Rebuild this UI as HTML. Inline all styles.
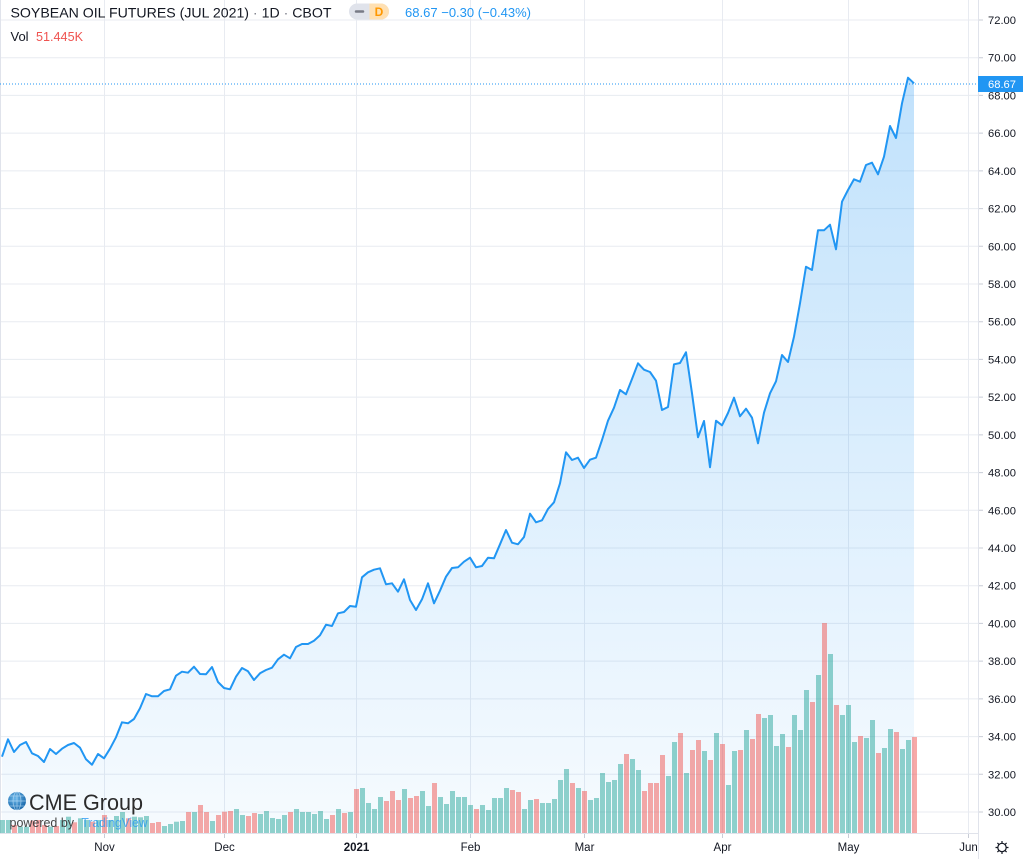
<!DOCTYPE html>
<html><head><meta charset="utf-8"><style>
html,body{margin:0;padding:0;background:#fff;}
svg{display:block;font-family:"Liberation Sans",Arial,sans-serif;}
</style></head><body>
<svg width="1025" height="859" viewBox="0 0 1025 859" xmlns="http://www.w3.org/2000/svg">
<defs>
<linearGradient id="ag" gradientUnits="userSpaceOnUse" x1="0" y1="78" x2="0" y2="833">
<stop offset="0" stop-color="#2196f3" stop-opacity="0.28"/>
<stop offset="1" stop-color="#2196f3" stop-opacity="0.04"/>
</linearGradient>
<radialGradient id="gl" cx="0.4" cy="0.35" r="0.7">
<stop offset="0" stop-color="#6bb7ea"/><stop offset="1" stop-color="#1565a8"/>
</radialGradient>
</defs>
<rect width="1025" height="859" fill="#fff"/>
<!-- grid -->
<g stroke="#e8ebf1" stroke-width="1">
<path d="M0 20H978M0 57.7H978M0 95.4H978M0 133.1H978M0 170.9H978M0 208.6H978M0 246.3H978M0 284H978M0 321.7H978M0 359.4H978M0 397.1H978M0 434.9H978M0 472.6H978M0 510.3H978M0 548H978M0 585.7H978M0 623.4H978M0 661.1H978M0 698.9H978M0 736.6H978M0 774.3H978M0 812H978"/>
<path d="M104.5 0V833M224.5 0V833M356.5 0V833M470.5 0V833M584.5 0V833M722.5 0V833M848.5 0V833M968.5 0V833"/>
</g>
<line x1="0.5" y1="0" x2="0.5" y2="833" stroke="#e0e3eb"/>
<!-- area -->
<path fill="url(#ag)" d="M2 833 L2 756.7 L8 739.3 L14 752 L20 745 L26 742 L32 753.3 L38 756 L44 762 L50 749 L56 754 L62 748.7 L68 745 L74 743 L80 747.7 L86 759.3 L92 764.7 L98 754 L104 758.3 L110 748.7 L116 737.3 L122 722.3 L128 723.3 L134 719 L140 708.3 L146 694 L152 696.3 L158 696.3 L164 691 L170 689.3 L176 675.7 L182 671.7 L188 672.7 L194 666.7 L200 674 L206 674.3 L212 667 L218 682 L224 688 L230 689.3 L236 676.7 L242 668 L248 671.3 L254 680 L260 673.3 L266 670 L272 667.7 L278 659.3 L284 654.7 L290 658.3 L296 647 L302 644 L308 644 L314 640.7 L320 635.3 L326 624.7 L332 626 L338 613.3 L344 612 L350 606 L356 606.7 L362 577.3 L368 572.3 L374 569.7 L380 568.3 L386 584.3 L392 583.3 L398 591.7 L404 579.3 L410 600 L416 610 L422 599.3 L428 583.3 L434 603.3 L440 590.7 L446 576.7 L452 568 L458 567.3 L464 561.7 L470 557.7 L476 567.3 L482 566 L488 557.7 L494 558.3 L500 544.3 L506 530 L512 542.7 L518 544.3 L524 537 L530 513.7 L536 522.3 L542 520.3 L548 509 L554 502.3 L560 483.3 L566 452.3 L572 460 L578 457.7 L584 468 L590 459.7 L596 457.7 L602 440 L608 420.7 L614 407.7 L620 390 L626 394.3 L632 379 L638 363.3 L644 369.7 L650 372 L656 380.7 L662 410 L668 407 L674 364.3 L680 363 L686 352.3 L692 393.3 L698 437.3 L704 421 L710 467.3 L716 420.7 L722 425.3 L728 413 L734 397.7 L740 416.3 L746 408.7 L752 417.7 L758 443.3 L764 412.7 L770 393.3 L776 381.3 L782 355 L788 362 L794 336.7 L800 303.3 L806 266.7 L812 270 L818 230.3 L824 230.3 L830 224.7 L836 249.3 L842 201.7 L848 190 L854 179.3 L860 181.7 L866 165 L872 162.7 L878 174.3 L884 156.7 L890 126 L896 138 L902 103.3 L908 77.7 L914 83.3 L914 833 Z"/>
<!-- volume teal -->
<g fill="#26a69a" fill-opacity="0.5">
<rect x="0" y="820" width="5" height="13"/><rect x="6" y="820" width="5" height="13"/><rect x="18" y="826.7" width="5" height="6.3"/><rect x="24" y="826.7" width="5" height="6.3"/><rect x="48" y="826.7" width="5" height="6.3"/><rect x="60" y="820" width="5" height="13"/><rect x="66" y="816.7" width="5" height="16.3"/><rect x="78" y="818.3" width="5" height="14.7"/><rect x="84" y="820" width="5" height="13"/><rect x="96" y="820" width="5" height="13"/><rect x="108" y="820" width="5" height="13"/><rect x="114" y="816" width="5" height="17"/><rect x="120" y="812" width="5" height="21"/><rect x="132" y="816.7" width="5" height="16.3"/><rect x="138" y="817.3" width="5" height="15.7"/><rect x="144" y="816" width="5" height="17"/><rect x="162" y="826" width="5" height="7"/><rect x="168" y="824" width="5" height="9"/><rect x="174" y="821.7" width="5" height="11.3"/><rect x="180" y="821" width="5" height="12"/><rect x="192" y="812" width="5" height="21"/><rect x="210" y="821" width="5" height="12"/><rect x="234" y="809" width="5" height="24"/><rect x="240" y="815" width="5" height="18"/><rect x="258" y="814" width="5" height="19"/><rect x="264" y="811" width="5" height="22"/><rect x="270" y="818" width="5" height="15"/><rect x="276" y="819" width="5" height="14"/><rect x="282" y="815" width="5" height="18"/><rect x="294" y="809" width="5" height="24"/><rect x="300" y="812" width="5" height="21"/><rect x="306" y="812" width="5" height="21"/><rect x="312" y="814" width="5" height="19"/><rect x="318" y="811" width="5" height="22"/><rect x="324" y="819" width="5" height="14"/><rect x="336" y="809" width="5" height="24"/><rect x="348" y="812" width="5" height="21"/><rect x="360" y="788" width="5" height="45"/><rect x="366" y="803" width="5" height="30"/><rect x="372" y="809" width="5" height="24"/><rect x="378" y="797" width="5" height="36"/><rect x="402" y="789" width="5" height="44"/><rect x="420" y="791" width="5" height="42"/><rect x="426" y="806" width="5" height="27"/><rect x="438" y="797" width="5" height="36"/><rect x="444" y="804" width="5" height="29"/><rect x="450" y="791" width="5" height="42"/><rect x="456" y="797" width="5" height="36"/><rect x="462" y="797" width="5" height="36"/><rect x="468" y="805" width="5" height="28"/><rect x="480" y="805" width="5" height="28"/><rect x="486" y="810" width="5" height="23"/><rect x="492" y="798" width="5" height="35"/><rect x="498" y="798" width="5" height="35"/><rect x="504" y="788" width="5" height="45"/><rect x="522" y="809" width="5" height="24"/><rect x="528" y="800" width="5" height="33"/><rect x="540" y="803" width="5" height="30"/><rect x="546" y="803" width="5" height="30"/><rect x="552" y="799" width="5" height="34"/><rect x="558" y="780" width="5" height="53"/><rect x="564" y="769" width="5" height="64"/><rect x="576" y="788" width="5" height="45"/><rect x="588" y="800" width="5" height="33"/><rect x="594" y="798" width="5" height="35"/><rect x="600" y="773" width="5" height="60"/><rect x="606" y="782" width="5" height="51"/><rect x="612" y="780" width="5" height="53"/><rect x="618" y="764" width="5" height="69"/><rect x="630" y="759" width="5" height="74"/><rect x="636" y="770" width="5" height="63"/><rect x="666" y="776" width="5" height="57"/><rect x="672" y="742" width="5" height="91"/><rect x="684" y="773" width="5" height="60"/><rect x="702" y="751" width="5" height="82"/><rect x="714" y="733" width="5" height="100"/><rect x="726" y="785" width="5" height="48"/><rect x="732" y="751" width="5" height="82"/><rect x="744" y="730" width="5" height="103"/><rect x="762" y="718" width="5" height="115"/><rect x="768" y="715" width="5" height="118"/><rect x="774" y="746" width="5" height="87"/><rect x="780" y="734" width="5" height="99"/><rect x="792" y="715" width="5" height="118"/><rect x="798" y="730" width="5" height="103"/><rect x="804" y="690" width="5" height="143"/><rect x="816" y="675" width="5" height="158"/><rect x="828" y="654" width="5" height="179"/><rect x="840" y="715" width="5" height="118"/><rect x="846" y="705" width="5" height="128"/><rect x="852" y="742" width="5" height="91"/><rect x="864" y="738" width="5" height="95"/><rect x="870" y="720" width="5" height="113"/><rect x="882" y="748" width="5" height="85"/><rect x="888" y="729" width="5" height="104"/><rect x="900" y="749" width="5" height="84"/><rect x="906" y="740" width="5" height="93"/>
</g>
<!-- volume red -->
<g fill="#ef5350" fill-opacity="0.5">
<rect x="12" y="825" width="5" height="8"/><rect x="30" y="820.7" width="5" height="12.3"/><rect x="36" y="820" width="5" height="13"/><rect x="42" y="825" width="5" height="8"/><rect x="54" y="826" width="5" height="7"/><rect x="72" y="822.3" width="5" height="10.7"/><rect x="90" y="821.7" width="5" height="11.3"/><rect x="102" y="815" width="5" height="18"/><rect x="126" y="818.3" width="5" height="14.7"/><rect x="150" y="823" width="5" height="10"/><rect x="156" y="822" width="5" height="11"/><rect x="186" y="812" width="5" height="21"/><rect x="198" y="805" width="5" height="28"/><rect x="204" y="812" width="5" height="21"/><rect x="216" y="815" width="5" height="18"/><rect x="222" y="811.7" width="5" height="21.3"/><rect x="228" y="811" width="5" height="22"/><rect x="246" y="816" width="5" height="17"/><rect x="252" y="813" width="5" height="20"/><rect x="288" y="812" width="5" height="21"/><rect x="330" y="815" width="5" height="18"/><rect x="342" y="813" width="5" height="20"/><rect x="354" y="789" width="5" height="44"/><rect x="384" y="801" width="5" height="32"/><rect x="390" y="791" width="5" height="42"/><rect x="396" y="800" width="5" height="33"/><rect x="408" y="798" width="5" height="35"/><rect x="414" y="796" width="5" height="37"/><rect x="432" y="783" width="5" height="50"/><rect x="474" y="809" width="5" height="24"/><rect x="510" y="790" width="5" height="43"/><rect x="516" y="792" width="5" height="41"/><rect x="534" y="799" width="5" height="34"/><rect x="570" y="783" width="5" height="50"/><rect x="582" y="791" width="5" height="42"/><rect x="624" y="754" width="5" height="79"/><rect x="642" y="791" width="5" height="42"/><rect x="648" y="783" width="5" height="50"/><rect x="654" y="783" width="5" height="50"/><rect x="660" y="755" width="5" height="78"/><rect x="678" y="733" width="5" height="100"/><rect x="690" y="750" width="5" height="83"/><rect x="696" y="740" width="5" height="93"/><rect x="708" y="760" width="5" height="73"/><rect x="720" y="744" width="5" height="89"/><rect x="738" y="750" width="5" height="83"/><rect x="750" y="739" width="5" height="94"/><rect x="756" y="714" width="5" height="119"/><rect x="786" y="747" width="5" height="86"/><rect x="810" y="702" width="5" height="131"/><rect x="822" y="623" width="5" height="210"/><rect x="834" y="705" width="5" height="128"/><rect x="858" y="736" width="5" height="97"/><rect x="876" y="753" width="5" height="80"/><rect x="894" y="732" width="5" height="101"/><rect x="912" y="737" width="5" height="96"/>
</g>
<!-- line -->
<path fill="none" stroke="#2196f3" stroke-width="2" stroke-linejoin="round" d="M2 756.7 L8 739.3 L14 752 L20 745 L26 742 L32 753.3 L38 756 L44 762 L50 749 L56 754 L62 748.7 L68 745 L74 743 L80 747.7 L86 759.3 L92 764.7 L98 754 L104 758.3 L110 748.7 L116 737.3 L122 722.3 L128 723.3 L134 719 L140 708.3 L146 694 L152 696.3 L158 696.3 L164 691 L170 689.3 L176 675.7 L182 671.7 L188 672.7 L194 666.7 L200 674 L206 674.3 L212 667 L218 682 L224 688 L230 689.3 L236 676.7 L242 668 L248 671.3 L254 680 L260 673.3 L266 670 L272 667.7 L278 659.3 L284 654.7 L290 658.3 L296 647 L302 644 L308 644 L314 640.7 L320 635.3 L326 624.7 L332 626 L338 613.3 L344 612 L350 606 L356 606.7 L362 577.3 L368 572.3 L374 569.7 L380 568.3 L386 584.3 L392 583.3 L398 591.7 L404 579.3 L410 600 L416 610 L422 599.3 L428 583.3 L434 603.3 L440 590.7 L446 576.7 L452 568 L458 567.3 L464 561.7 L470 557.7 L476 567.3 L482 566 L488 557.7 L494 558.3 L500 544.3 L506 530 L512 542.7 L518 544.3 L524 537 L530 513.7 L536 522.3 L542 520.3 L548 509 L554 502.3 L560 483.3 L566 452.3 L572 460 L578 457.7 L584 468 L590 459.7 L596 457.7 L602 440 L608 420.7 L614 407.7 L620 390 L626 394.3 L632 379 L638 363.3 L644 369.7 L650 372 L656 380.7 L662 410 L668 407 L674 364.3 L680 363 L686 352.3 L692 393.3 L698 437.3 L704 421 L710 467.3 L716 420.7 L722 425.3 L728 413 L734 397.7 L740 416.3 L746 408.7 L752 417.7 L758 443.3 L764 412.7 L770 393.3 L776 381.3 L782 355 L788 362 L794 336.7 L800 303.3 L806 266.7 L812 270 L818 230.3 L824 230.3 L830 224.7 L836 249.3 L842 201.7 L848 190 L854 179.3 L860 181.7 L866 165 L872 162.7 L878 174.3 L884 156.7 L890 126 L896 138 L902 103.3 L908 77.7 L914 83.3"/>
<!-- last price dotted -->
<line x1="0" y1="84" x2="978" y2="84" stroke="#2196f3" stroke-width="1" stroke-dasharray="1 2"/>
<!-- axes borders -->
<line x1="0" y1="833.5" x2="978" y2="833.5" stroke="#e0e3eb"/>
<line x1="978.5" y1="0" x2="978.5" y2="859" stroke="#e0e3eb"/>
<!-- price ticks -->
<g stroke="#c8ccd6"><path d="M979 20H983M979 57.7H983M979 95.4H983M979 133.1H983M979 170.9H983M979 208.6H983M979 246.3H983M979 284H983M979 321.7H983M979 359.4H983M979 397.1H983M979 434.9H983M979 472.6H983M979 510.3H983M979 548H983M979 585.7H983M979 623.4H983M979 661.1H983M979 698.9H983M979 736.6H983M979 774.3H983M979 812H983"/></g>
<g fill="#131722" font-size="11.2">
<text x="988" y="24">72.00</text><text x="988" y="61.7">70.00</text><text x="988" y="99.4">68.00</text><text x="988" y="137.1">66.00</text><text x="988" y="174.9">64.00</text><text x="988" y="212.6">62.00</text><text x="988" y="250.3">60.00</text><text x="988" y="288">58.00</text><text x="988" y="325.7">56.00</text><text x="988" y="363.4">54.00</text><text x="988" y="401.1">52.00</text><text x="988" y="438.9">50.00</text><text x="988" y="476.6">48.00</text><text x="988" y="514.3">46.00</text><text x="988" y="552">44.00</text><text x="988" y="589.7">42.00</text><text x="988" y="627.4">40.00</text><text x="988" y="665.1">38.00</text><text x="988" y="702.9">36.00</text><text x="988" y="740.6">34.00</text><text x="988" y="778.3">32.00</text><text x="988" y="816">30.00</text>
</g>
<!-- last price label -->
<rect x="978" y="76" width="45" height="16" fill="#2196f3"/>
<text x="988" y="88.2" fill="#fff" font-size="11.2">68.67</text>
<!-- time ticks -->
<g stroke="#c8ccd6"><path d="M104.5 834V838M224.5 834V838M356.5 834V838M470.5 834V838M584.5 834V838M722.5 834V838M848.5 834V838M968.5 834V838"/></g>
<g fill="#131722" font-size="11.5" text-anchor="middle">
<text x="104.5" y="851">Nov</text><text x="224.5" y="851">Dec</text><text x="356.5" y="851" font-weight="bold">2021</text><text x="470.5" y="851">Feb</text><text x="584.5" y="851">Mar</text><text x="722.5" y="851">Apr</text><text x="848.5" y="851">May</text><text x="968.5" y="851">Jun</text>
</g>
<!-- gear -->
<g transform="translate(1002,847.5)" stroke="#131722" stroke-width="1.2" fill="none">
<circle r="4.2"/>
<path d="M0 -6.5V-4.2M0 4.2V6.5M-6.5 0H-4.2M4.2 0H6.5M-4.6 -4.6L-3 -3M3 3L4.6 4.6M-4.6 4.6L-3 3M3 -3L4.6 -4.6"/>
</g>
<!-- header -->
<text x="10.5" y="17.5" font-size="14" fill="#131722" textLength="321" lengthAdjust="spacingAndGlyphs">SOYBEAN OIL FUTURES (JUL 2021) <tspan fill="#787b86">·</tspan> 1D <tspan fill="#787b86">·</tspan> CBOT</text>
<rect x="349" y="3.5" width="40" height="16" rx="8" fill="#e0e3eb"/>
<path d="M369.5 3.5H381a8 8 0 0 1 0 16H369.5Z" fill="#ffe0b2"/>
<line x1="356" y1="11.5" x2="363" y2="11.5" stroke="#787b86" stroke-width="2.5" stroke-linecap="round"/>
<text x="379" y="16" font-size="12" fill="#ff9800" text-anchor="middle" font-weight="bold">D</text>
<text x="405" y="17" font-size="13" fill="#2196f3" textLength="126" lengthAdjust="spacingAndGlyphs">68.67 −0.30 (−0.43%)</text>
<text x="10.5" y="41" font-size="13" fill="#131722">Vol</text>
<text x="36" y="41" font-size="13" fill="#ef5350" textLength="47" lengthAdjust="spacingAndGlyphs">51.445K</text>
<!-- CME logo -->
<g>
<circle cx="17" cy="801" r="9" fill="url(#gl)"/>
<g stroke="#bfe0f7" stroke-width="0.7" fill="none" opacity="0.8">
<ellipse cx="17" cy="801" rx="4" ry="9"/>
<line x1="8" y1="801" x2="26" y2="801"/>
<line x1="9.5" y1="796" x2="24.5" y2="796"/>
<line x1="9.5" y1="806" x2="24.5" y2="806"/>
<line x1="17" y1="792" x2="17" y2="810"/>
</g>
<text x="29" y="810" font-size="22.5" fill="#2b2b2b" textLength="114" lengthAdjust="spacingAndGlyphs">CME Group</text>
<text x="9.5" y="827" font-size="12.5" fill="#444" textLength="64.5" lengthAdjust="spacingAndGlyphs">powered by</text>
<text x="81.5" y="827" font-size="12.5" fill="#2196f3" fill-opacity="0.75" textLength="66" lengthAdjust="spacingAndGlyphs">TradingView</text>
</g>
</svg>
</body></html>
